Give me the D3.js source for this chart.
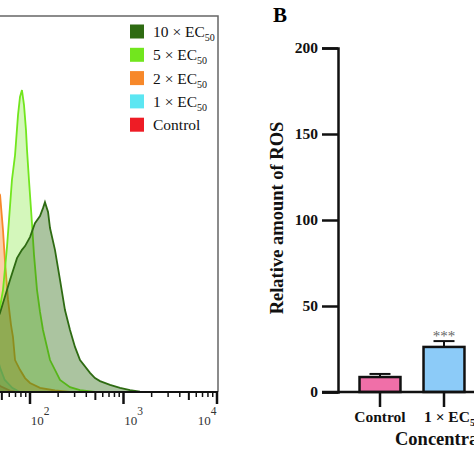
<!DOCTYPE html>
<html><head><meta charset="utf-8">
<script src="https://cdn.jsdelivr.net/npm/d3@7/dist/d3.min.js"></script>
<style>html,body{margin:0;padding:0;background:#fff;}svg{display:block;}</style>
</head><body>
<svg id="chart" width="474" height="474"></svg>
<script>
// ---------- Panel A: flow cytometry histograms (log10 fluorescence, relative count %) ----------
const seriesNames = ["Control", "1 × EC", "2 × EC", "5 × EC", "10 × EC"];
const seriesColors = ["#ee1c25", "#5ce6f2", "#f7882a", "#72e61e", "#2e6b12"];
const controlHist = [[0.93,67],[1.09,56.4],[1.25,32.4],[1.41,13.8],[1.57,4.5],[1.68,1.6],[1.79,0.3],[1.87,0]];
const ec1Hist = [[1.04,64.4],[1.2,72.3],[1.36,51.1],[1.52,24.5],[1.63,11.2],[1.68,6.4],[1.73,3.2],[1.81,1.1],[1.89,0]];
const ec2Hist = [[1.25,16.5],[1.36,29.8],[1.47,44.4],[1.55,53.2],[1.615,55.0],[1.68,52.4],[1.711,43.1],[1.733,34.6],[1.765,24.5],[1.797,17.8],[1.818,14.6],[1.84,8.5],[1.893,5.9],[1.947,3.7],[2.0,2.4],[2.107,1.1],[2.267,0.4],[2.428,0]];
const ec5Hist = [[1.358,0],[1.465,1.9],[1.551,7.2],[1.626,15.2],[1.679,22.6],[1.711,27.1],[1.754,38.6],[1.807,56.4],[1.84,63.0],[1.872,73.7],[1.893,78.5],[1.914,80.3],[1.936,76.3],[1.957,69.7],[1.968,64.4],[1.989,56.4],[2.021,44.9],[2.043,36.4],[2.075,27.1],[2.107,21.3],[2.139,16.5],[2.214,8.5],[2.321,3.2],[2.428,1.3],[2.535,0.5],[2.695,0]];
const ec10Hist = [[1.25,0],[1.36,3],[1.465,8.5],[1.572,15.2],[1.679,21.0],[1.786,29.8],[1.861,35.6],[1.914,37.8],[1.947,38.8],[2.0,41.2],[2.053,44.9],[2.107,46.8],[2.139,48.9],[2.16,50.5],[2.193,47.9],[2.214,43.6],[2.267,37.8],[2.321,29.8],[2.374,21.8],[2.428,16.5],[2.481,12.0],[2.535,8.5],[2.642,5.1],[2.695,3.7],[2.749,2.9],[2.856,1.9],[2.963,1.1],[3.07,0.5],[3.176,0.1],[3.283,0]];
const histograms = [controlHist, ec1Hist, ec2Hist, ec5Hist, ec10Hist];
const decadeTicks = [100, 1000, 10000];
const decadeExps = ["2", "3", "4"];

// ---------- Panel B: bar chart ----------
const barCategories = ["Control", "1 × EC"];
const barValues = [8.7, 26.2];
const barErrors = [1.8, 3.4];
const barColors = ["#f06fa8", "#8ccbf8"];
const barSignif = ["", "***"];
const yTicksB = [0, 50, 100, 150, 200];

const svg = d3.select("#chart");
const serif = "'Liberation Serif','Times New Roman',Times,serif";

// ===== Panel A =====
const ax = d3.scaleLog().domain([100, 10000]).range([30, 217]);
const ay = d3.scaleLinear().domain([0, 100]).range([392, 16]);
const defs = svg.append("defs");
defs.append("clipPath").attr("id", "clipA").append("rect").attr("x", 0).attr("y", 16).attr("width", 218).attr("height", 376);

const area = d3.area().x(d => ax(Math.pow(10, d[0]))).y0(ay(0)).y1(d => ay(d[1]));
const line = d3.line().x(d => ax(Math.pow(10, d[0]))).y(d => ay(d[1]));
const gA = svg.append("g").attr("clip-path", "url(#clipA)");
histograms.forEach((h, i) => {
  gA.append("path").datum(h).attr("d", area)
    .attr("fill", seriesColors[i]).attr("fill-opacity", i === 3 ? 0.3 : 0.4);
  gA.append("path").datum(h).attr("d", line)
    .attr("fill", "none").attr("stroke", seriesColors[i]).attr("stroke-width", 1.8);
});

// frame (top and right)
svg.append("path").attr("d", "M0,16H218V392").attr("fill", "none").attr("stroke", "#666").attr("stroke-width", 1.5);
// bottom axis
const axisA = svg.append("g");
axisA.append("line").attr("x1", 0).attr("x2", 218).attr("y1", 392).attr("y2", 392).attr("stroke", "#111").attr("stroke-width", 2);
const minorTicks = [];
[10, 100, 1000].forEach(d => { for (let k = 2; k <= 9; k++) minorTicks.push(d * k); });
minorTicks.filter(v => ax(v) >= 0).forEach(v => {
  const five = String(v)[0] === "5";
  axisA.append("line").attr("x1", ax(v)).attr("x2", ax(v)).attr("y1", 392).attr("y2", five ? 400 : 397)
    .attr("stroke", "#111").attr("stroke-width", five ? 2 : 1.5);
});
decadeTicks.forEach((v, i) => {
  axisA.append("line").attr("x1", ax(v)).attr("x2", ax(v)).attr("y1", 392).attr("y2", 404)
    .attr("stroke", "#111").attr("stroke-width", 2.5);
  const cx = ax(v) + (i === 2 ? -10 : 10);
  const t = axisA.append("text").attr("x", cx).attr("y", 425).attr("text-anchor", "middle")
    .attr("font-family", serif).attr("font-size", 13).attr("fill", "#333");
  t.append("tspan").text("10");
  t.append("tspan").attr("dy", -10).attr("font-size", 11.5).text(decadeExps[i]);
});

// legend
const legOrder = [4, 3, 2, 1, 0];
legOrder.forEach((si, r) => {
  const yc = 31.5 + r * 23.3;
  svg.append("rect").attr("x", 130).attr("y", yc - 7).attr("width", 14).attr("height", 14).attr("fill", seriesColors[si]);
  const t = svg.append("text").attr("x", 153).attr("y", yc + 5.5).attr("font-family", serif).attr("font-size", 15.5).attr("fill", "#111");
  t.append("tspan").text(seriesNames[si]);
  if (si > 0) t.append("tspan").attr("dy", 4).attr("font-size", 10).text("50");
});

// ===== Panel B =====
const by = d3.scaleLinear().domain([0, 200]).range([392, 48]);
const bx = d3.scaleBand().domain(barCategories).range([348, 476]).paddingInner(0.36).paddingOuter(0.18);

svg.append("text").attr("x", 273).attr("y", 22).attr("font-family", serif).attr("font-weight", "bold").attr("font-size", 21).text("B");

const yAxisB = svg.append("g").attr("transform", "translate(338,0)")
  .call(d3.axisLeft(by).tickValues(yTicksB).tickSize(16).tickPadding(4));
yAxisB.select(".domain").attr("stroke", "#111").attr("stroke-width", 2.5);
yAxisB.selectAll(".tick line").attr("stroke", "#111").attr("stroke-width", 2.5);
yAxisB.selectAll(".tick text").attr("font-family", serif).attr("font-weight", "bold").attr("font-size", 15.5).attr("fill", "#111");

svg.append("text").attr("transform", "translate(283,218) rotate(-90)").attr("text-anchor", "middle")
  .attr("font-family", serif).attr("font-weight", "bold").attr("font-size", 18.5).attr("fill", "#111")
  .text("Relative amount of ROS");

// bars
barCategories.forEach((c, i) => {
  const x0 = bx(c), w = bx.bandwidth(), cx = x0 + w / 2;
  const top = by(barValues[i] + barErrors[i]);
  svg.append("line").attr("x1", cx).attr("x2", cx).attr("y1", by(barValues[i])).attr("y2", top).attr("stroke", "#111").attr("stroke-width", 2);
  svg.append("line").attr("x1", cx - 10.5).attr("x2", cx + 10.5).attr("y1", top).attr("y2", top).attr("stroke", "#111").attr("stroke-width", 2);
  svg.append("rect").attr("x", x0).attr("y", by(barValues[i])).attr("width", w).attr("height", by(0) - by(barValues[i]))
    .attr("fill", barColors[i]).attr("stroke", "#111").attr("stroke-width", 2.5);
  if (barSignif[i]) {
    svg.append("text").attr("x", cx).attr("y", top - 0.5).attr("text-anchor", "middle")
      .attr("font-family", serif).attr("font-size", 15).attr("fill", "#666").text(barSignif[i]);
  }
});

// x axis
const xAxisB = svg.append("g");
xAxisB.append("line").attr("x1", 322).attr("x2", 474).attr("y1", 392).attr("y2", 392).attr("stroke", "#111").attr("stroke-width", 2.5);
barCategories.forEach((c, i) => {
  const cx = bx(c) + bx.bandwidth() / 2;
  xAxisB.append("line").attr("x1", cx).attr("x2", cx).attr("y1", 392).attr("y2", 407).attr("stroke", "#111").attr("stroke-width", 2.5);
  const t = xAxisB.append("text").attr("x", i === 0 ? cx : cx - 20).attr("y", 422).attr("text-anchor", i === 0 ? "middle" : "start")
    .attr("font-family", serif).attr("font-weight", "bold").attr("font-size", 15.5).attr("fill", "#111");
  t.append("tspan").text(c);
  if (i > 0) t.append("tspan").attr("dy", 4).attr("font-size", 10).text("50");
});
svg.append("text").attr("x", 395).attr("y", 445).attr("font-family", serif).attr("font-weight", "bold").attr("font-size", 18.5).attr("fill", "#111")
  .text("Concentration");
</script>
</body></html>
